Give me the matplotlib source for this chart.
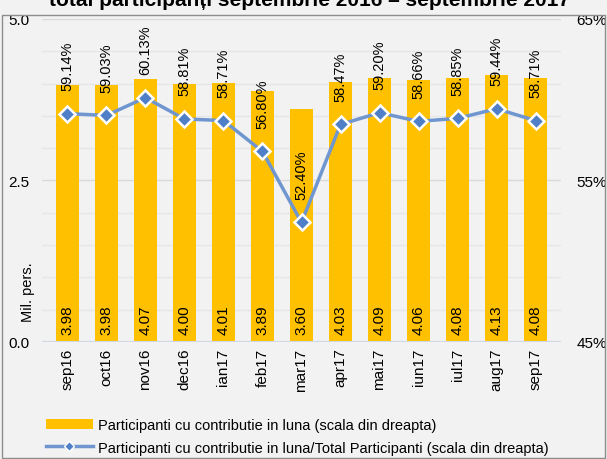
import matplotlib
matplotlib.use("Agg")
import matplotlib.pyplot as plt
from matplotlib.patches import Rectangle, Patch
from matplotlib.lines import Line2D

plt.rcParams['font.family'] = ['Liberation Sans', 'DejaVu Sans']

months = ["sep16", "oct16", "nov16", "dec16", "ian17", "feb17", "mar17",
          "apr17", "mai17", "iun17", "iul17", "aug17", "sep17"]
participants = [3.98, 3.98, 4.07, 4.00, 4.01, 3.89, 3.60, 4.03, 4.09, 4.06, 4.08, 4.13, 4.08]
share_pct = [59.14, 59.03, 60.13, 58.81, 58.71, 56.80, 52.40, 58.47, 59.20, 58.66, 58.85, 59.44, 58.71]
left_ticks = [0.0, 2.5, 5.0]
right_ticks = [45, 55, 65]
title = "total participanți septembrie 2016 – septembrie 2017"
bar_label = "Participanti cu contributie in luna (scala din dreapta)"
line_label = "Participanti cu contributie in luna/Total Participanti (scala din dreapta)"

BG = "#f2f2f2"
BAR = "#FFC000"
LINE = "#7096d0"
MARK = "#4f7fc6"

fig = plt.figure(figsize=(6.07, 4.60), dpi=100, facecolor=BG)
ax = fig.add_axes([42/607, 1-343/460, (561-42)/607, (343-20)/460])
ax.set_facecolor(BG)
x = list(range(len(months)))

# grid
for g in [0.5*i for i in range(1, 11)]:
    ax.axhline(g, color="#e6e6e6" if g not in (2.5, 5.0) else "#d9d9d9", lw=1, zorder=0)
ax.axhline(0, color="#d0d8e4", lw=1.5, zorder=3)

ax.bar(x, participants, width=0.6, color=BAR, zorder=2)
ax.set_xlim(-0.65, len(months)-0.35)
ax.set_ylim(0, 5)
ax.set_yticks(left_ticks)
ax.set_yticklabels([f"{v:.1f}" for v in left_ticks], fontsize=11)
ax.set_xticks(x)
ax.set_xticklabels(months, rotation=90, fontsize=11)
ax.tick_params(length=0, pad=4)
ax.tick_params(axis='y', pad=9)
for s in ax.spines.values():
    s.set_visible(False)

for xi, v in zip(x, participants):
    ax.annotate(f"{v:.2f}", (xi, 0), xytext=(0, 6), textcoords="offset points",
                rotation=90, ha="center", va="bottom", fontsize=11, zorder=5)

ax2 = ax.twinx()
ax2.set_ylim(45, 65)
ax2.set_yticks(right_ticks)
ax2.set_yticklabels([f"{v}%" for v in right_ticks], fontsize=11)
ax2.tick_params(length=0, pad=11)
for s in ax2.spines.values():
    s.set_visible(False)
ax2.plot(x, share_pct, color=LINE, lw=2.5, marker="D", ms=8, mfc=MARK,
         mec="white", mew=1.8, zorder=4)
for xi, v in zip(x, share_pct):
    ax2.annotate(f"{v:.2f}%", (xi, v), xytext=(0, 17), textcoords="offset points",
                 rotation=90, ha="center", va="bottom", fontsize=10.5, zorder=5)

fig.text(0.046, 1-292/460, "Mil. pers.", rotation=90, ha="center", va="center", fontsize=10.5)

fig.text(0.51, 1-1/460, title, ha="center", va="center", fontsize=15, fontweight="bold")

fig.patches.append(Rectangle((0.003, 0.002), 0.994, 1-16/460-0.002, transform=fig.transFigure,
                             fill=False, edgecolor="#8c8c8c", lw=1))

handles = [Patch(facecolor=BAR, edgecolor="none"),
           Line2D([0], [0], color=LINE, lw=2.5, marker="D", ms=5, mfc=MARK, mec="white", mew=1)]
fig.legend(handles, [bar_label, line_label], loc="upper left",
           bbox_to_anchor=(40/607, 1-413/460), frameon=False, fontsize=10.5,
           handlelength=3.2, handletextpad=0.4, labelspacing=0.6, borderaxespad=0)

fig.savefig("out.png", dpi=100, facecolor=BG)
